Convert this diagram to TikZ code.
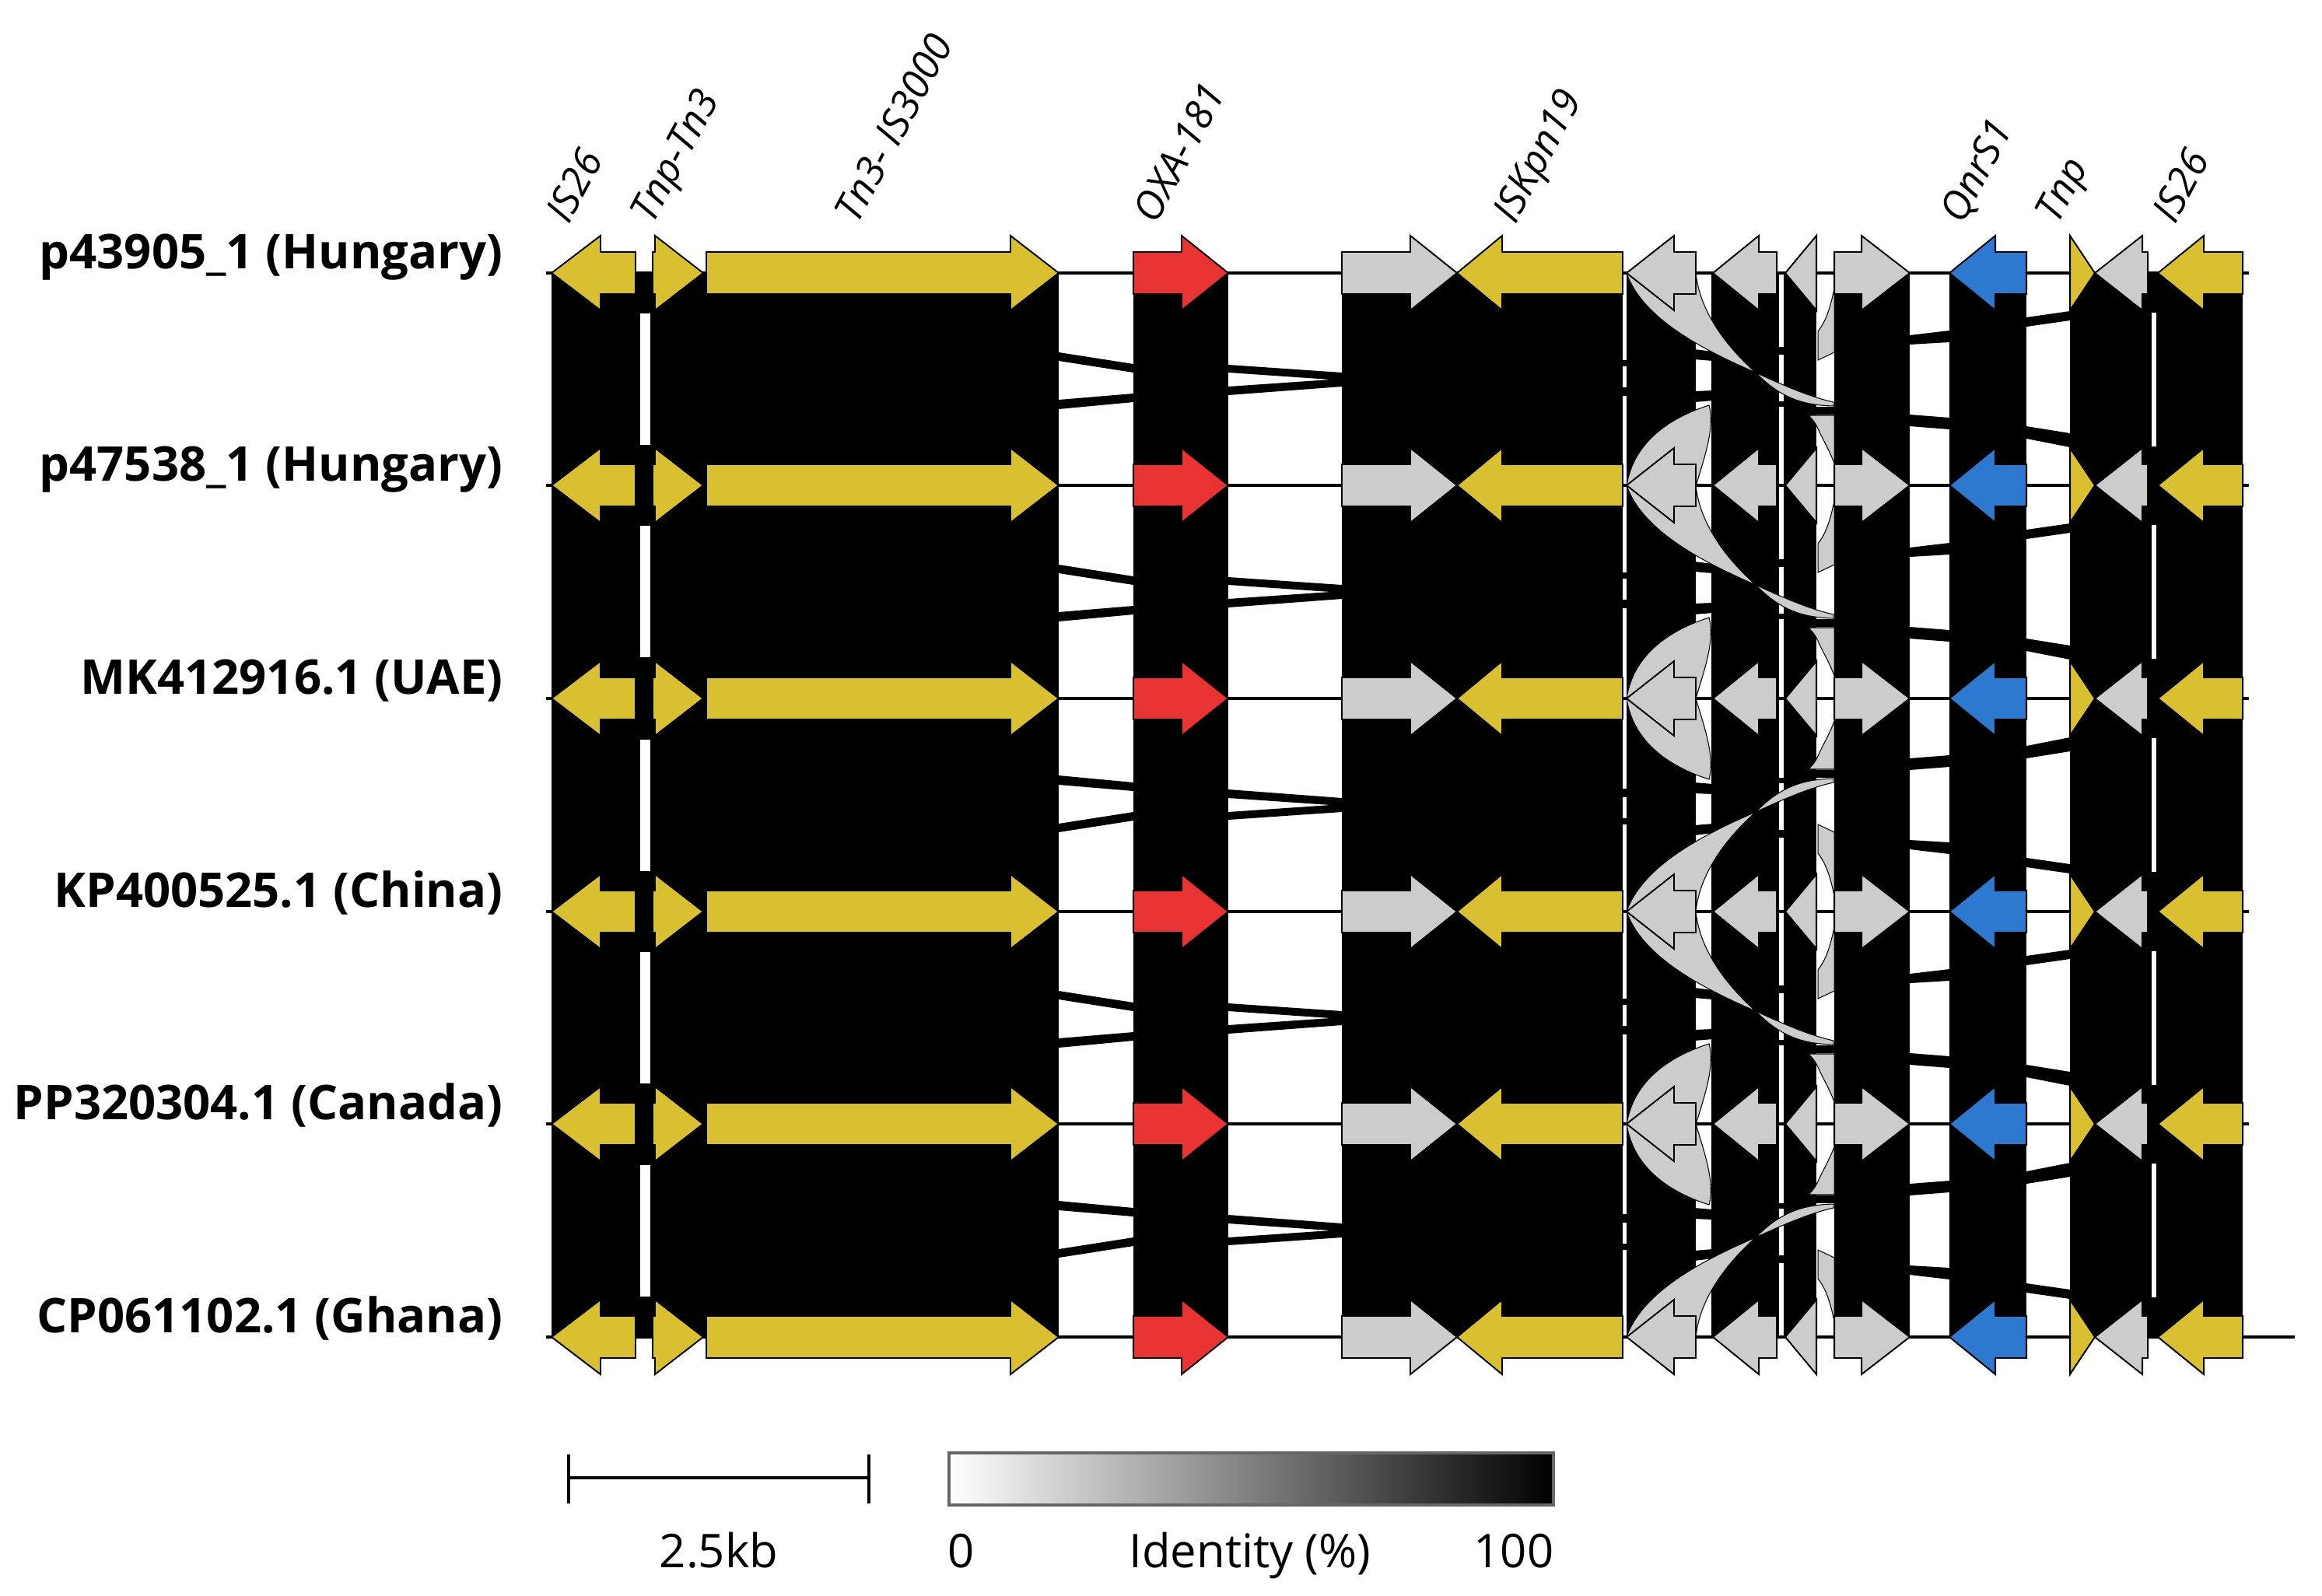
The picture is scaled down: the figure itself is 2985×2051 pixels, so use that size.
\documentclass[tikz,border=0pt]{standalone}
\usepackage{fontspec}
\setmainfont{Open Sans}
\usepackage{xcolor}

\definecolor{geneyellow}{RGB}{216,192,48}
\definecolor{genered}{RGB}{233,51,51}
\definecolor{genegrey}{RGB}{204,204,204}
\definecolor{geneblue}{RGB}{44,121,207}

\tikzset{
  gene/.style={draw=black, line width=0.55pt, line join=miter},
  band/.style={fill=black},
  twist/.style={fill=genegrey, draw=black, line width=0.3pt},
  backbone/.style={draw=black, line width=1pt},
  rowlabel/.style={anchor=base east, inner sep=0pt, font=\bfseries\fontsize{17.5}{20}\selectfont},
  genelabel/.style={anchor=base west, inner sep=0pt, rotate=62, font=\itshape\fontsize{14.5}{17}\selectfont},
  keylabel/.style={anchor=base, inner sep=0pt, font=\fontsize{17}{20}\selectfont},
  scalebar/.style={draw=black, line width=0.9pt}
}

% gene arrow: fill, tail x, head base x, tip x, row y
\newcommand{\gene}[5]{%
  \filldraw[gene, fill=#1] (#2,#5-27) -- (#3,#5-27) -- (#3,#5-48) -- (#4,#5)
    -- (#3,#5+48) -- (#3,#5+27) -- (#2,#5+27) -- cycle;
}

\begin{document}
\begin{tikzpicture}[x=0.01cm, y=-0.01cm]
    \useasboundingbox (0,0) rectangle (2985,2051);

    % Similarity bands (origin on a row, yscale -1 for the mirrored ones)
    \foreach \o/\s in {351/1, 624/1, 1172/-1, 1172/1, 1719/-1} {
      \begin{scope}[shift={(0,\o)}, yscale=\s]
        \fill[band] (709,0) rectangle (823,274);
        \fill[band] (823,0) rectangle (836,52);
        \fill[band] (823,221) rectangle (836,274);
        \fill[band] (836,0) rectangle (1361,274);
        \fill[band] (1457,0) rectangle (1579,274);
        \fill[band] (1725,0) rectangle (2086,274);
        \fill[band] (2091,0) rectangle (2180,274);
        \fill[band] (2200,0) rectangle (2287,274);
        \fill[band] (2293,0) rectangle (2335,274);
        \fill[band] (2358,0) rectangle (2455,274);
        \fill[band] (2506,0) rectangle (2605,274);
        \fill[band] (2661,0) rectangle (2766,274);
        \fill[band] (2766,0) rectangle (2772,51);
        \fill[band] (2766,223) rectangle (2772,274);
        \fill[band] (2772,0) rectangle (2883,274);
        % short hits across the gaps
        \fill[band] (1361,102) -- (1457,117) -- (1457,128) -- (1361,113) -- cycle;
        \fill[band] (1361,163) -- (1457,155) -- (1457,166) -- (1361,175) -- cycle;
        \fill[band] (1579,118) -- (1725,128) -- (1725,138) -- (1579,128) -- cycle;
        \fill[band] (1579,146) -- (1725,136) -- (1725,146) -- (1579,157) -- cycle;
        \fill[band] (2084,112) rectangle (2093,120);
        \fill[band] (2084,147) rectangle (2093,158);
        \fill[band] (2178,98) -- (2202,101) -- (2202,113) -- (2178,111) -- cycle;
        \fill[band] (2178,152) -- (2202,151) -- (2202,164) -- (2178,166) -- cycle;
        \fill[band] (2285,95) rectangle (2295,105);
        \fill[band] (2285,165) rectangle (2295,172);
        \fill[band] (2323,172) rectangle (2360,182);
        \fill[band] (2455,80) -- (2506,74) -- (2506,89) -- (2455,92) -- cycle;
        \fill[band] (2455,182) -- (2506,186) -- (2506,201) -- (2455,197) -- cycle;
        \fill[band] (2605,57) -- (2661,49) -- (2661,61) -- (2605,69) -- cycle;
        \fill[band] (2605,197) -- (2661,206) -- (2661,224) -- (2605,213) -- cycle;
        % inverted hits
        \filldraw[twist] (2091,0) .. controls (2110,55) and (2180,95) .. (2257,128)
          .. controls (2220,95) and (2185,50) .. (2180,0) -- cycle;
        \filldraw[twist] (2257,128) .. controls (2300,148) and (2330,160) .. (2357,166)
          -- (2357,171) .. controls (2320,170) and (2290,162) .. (2257,128);
        \filldraw[twist] (2091,274) .. controls (2100,215) and (2150,185) .. (2197,170)
          .. controls (2205,200) and (2190,240) .. (2180,274) -- cycle;
        \filldraw[twist] (2358,20) .. controls (2352,50) and (2345,65) .. (2337,75)
          -- (2337,112) -- (2358,102) -- cycle;
        \filldraw[twist] (2325,183) -- (2358,183) -- (2358,245)
          .. controls (2352,228) and (2342,212) .. (2337,200)
          .. controls (2333,192) .. (2325,183) -- cycle;
      \end{scope}
    }

    % Backbones
    \foreach \y in {351,624,898,1172,1445}
      \draw[backbone] (702,\y) -- (2891,\y);
    \draw[backbone] (702,1719) -- (2950,1719);

    % Genes
    \foreach \y in {351,624,898,1172,1445,1719} {
      \foreach \c/\t/\h/\p in {geneyellow/817/772/709, geneyellow/839/842/904,
          geneyellow/908/1299/1361, genered/1457/1519/1579, genegrey/1725/1813/1873,
          geneyellow/2086/1931/1873, genegrey/2180/2152/2091, genegrey/2284/2261/2202,
          genegrey/2335/2335/2295, genegrey/2358/2393/2455, geneblue/2605/2565/2506,
          geneyellow/2661/2661/2693, genegrey/2761/2754/2693, geneyellow/2883/2833/2774}
        {\gene{\c}{\t}{\h}{\p}{\y}}
    }

    % Sequence names
    \foreach \y/\lab [count=\i] in {351/{p43905\_1 (Hungary)}, 624/{p47538\_1 (Hungary)},
        898/{MK412916.1 (UAE)}, 1172/{KP400525.1 (China)},
        1445/{PP320304.1 (Canada)}, 1719/{CP061102.1 (Ghana)}}
      \node[rowlabel] (row\i) at (647,\y-6) {\lab};

    % Gene names
    \foreach \cx/\lab [count=\i] in {763/IS26, 871/Tnp-Tn3, 1134/{Tn3- IS3000},
        1518/OXA-181, 1980/ISKpn19, 2555/QnrS1, 2677/Tnp, 2828/IS26}
      \node[genelabel] (gname\i) at (\cx-32,290) {\lab};

    % Scale bar
    \coordinate (sbleft) at (731,1900);
    \coordinate (sbright) at (1117,1900);
    \draw[scalebar] (sbleft) -- (sbright);
    \draw[scalebar] ([yshift=0.3cm]sbleft) -- ([yshift=-0.33cm]sbleft);
    \draw[scalebar] ([yshift=0.3cm]sbright) -- ([yshift=-0.33cm]sbright);
    \node[keylabel] (kb) at (924,2015) {2.5kb};

    % Identity key
    \node[draw=black!60, line width=1pt, left color=white, right color=black,
      minimum width=7.77cm, minimum height=0.67cm, inner sep=0pt] (idbar) at (1608.5,1901.5) {};
    \node[keylabel] (id0) at (1236,2015) {0};
    \node[keylabel] (idname) at (1607,2015) {Identity (\%)};
    \node[keylabel] (id100) at (1946,2015) {100};
\end{tikzpicture}
\end{document}
